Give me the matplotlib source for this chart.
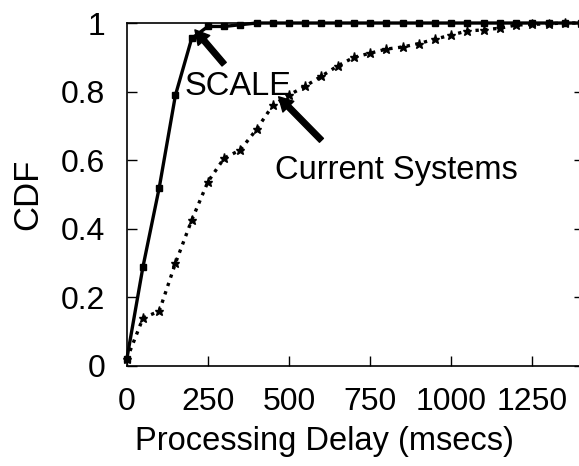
# CDF of processing delay: SCALE vs current systems

import matplotlib.pyplot as plt

plt.rcParams['font.family'] = ['Liberation Sans', 'DejaVu Sans']

delay = [0, 50, 100, 150, 200, 250, 300, 350, 400, 450, 500, 550, 600, 650, 700,
         750, 800, 850, 900, 950, 1000, 1050, 1100, 1150, 1200, 1250, 1300, 1350, 1400]

scale_cdf = [0.02, 0.29, 0.52, 0.79, 0.955, 0.99, 0.99, 0.995, 1.0, 1.0, 1.0, 1.0, 1.0, 1.0, 1.0,
             1.0, 1.0, 1.0, 1.0, 1.0, 1.0, 1.0, 1.0, 1.0, 1.0, 1.0, 1.0, 1.0, 1.0]

current_cdf = [0.02, 0.14, 0.16, 0.30, 0.425, 0.537, 0.606, 0.63, 0.69, 0.76, 0.79, 0.816, 0.845,
               0.875, 0.90, 0.912, 0.924, 0.93, 0.94, 0.953, 0.965, 0.977, 0.98, 0.985, 0.994,
               0.996, 0.998, 1.0, 1.0]

xticks = [0, 250, 500, 750, 1000, 1250]
yticks = [0, 0.2, 0.4, 0.6, 0.8, 1]

fig = plt.figure(figsize=(5.79, 4.66), dpi=100)
ax = fig.add_axes([0.219, 0.2146, 0.79, 0.736])

ax.plot(delay, scale_cdf, color='black', lw=2.4, marker='s', ms=4.5, clip_on=False)
ax.plot(delay, current_cdf, color='black', lw=2.4, ls=':', marker='*', ms=6.5, clip_on=False)

ax.set_xlim(0, 1410)
ax.set_ylim(0, 1)
ax.set_xticks(xticks)
ax.set_xticklabels([str(t) for t in xticks])
ax.set_yticks(yticks)
ax.set_yticklabels(['0', '0.2', '0.4', '0.6', '0.8', '1'])
ax.tick_params(direction='in', length=7, width=1, labelsize=23, right=True)
ax.tick_params(axis='x', pad=15)
ax.tick_params(axis='y', pad=15.5)
for s in ax.spines.values():
    s.set_linewidth(1.2)

ax.set_xlabel('Processing Delay (msecs)', fontsize=23.5)
ax.xaxis.set_label_coords(0.432, -0.175)
ax.set_ylabel('CDF', fontsize=25)
ax.yaxis.set_label_coords(-0.18, 0.5)

arrow = dict(facecolor='black', edgecolor='black', width=4, headwidth=11, headlength=10, shrink=0)
ax.annotate('', xy=(210, 0.98), xytext=(300, 0.88), arrowprops=arrow)
ax.text(179, 0.815, 'SCALE', fontsize=23.5, va='center')
ax.annotate('', xy=(468, 0.785), xytext=(600, 0.658), arrowprops=arrow)
ax.text(457, 0.57, 'Current Systems', fontsize=23.5, va='center')

fig.savefig('out.png', dpi=100)
